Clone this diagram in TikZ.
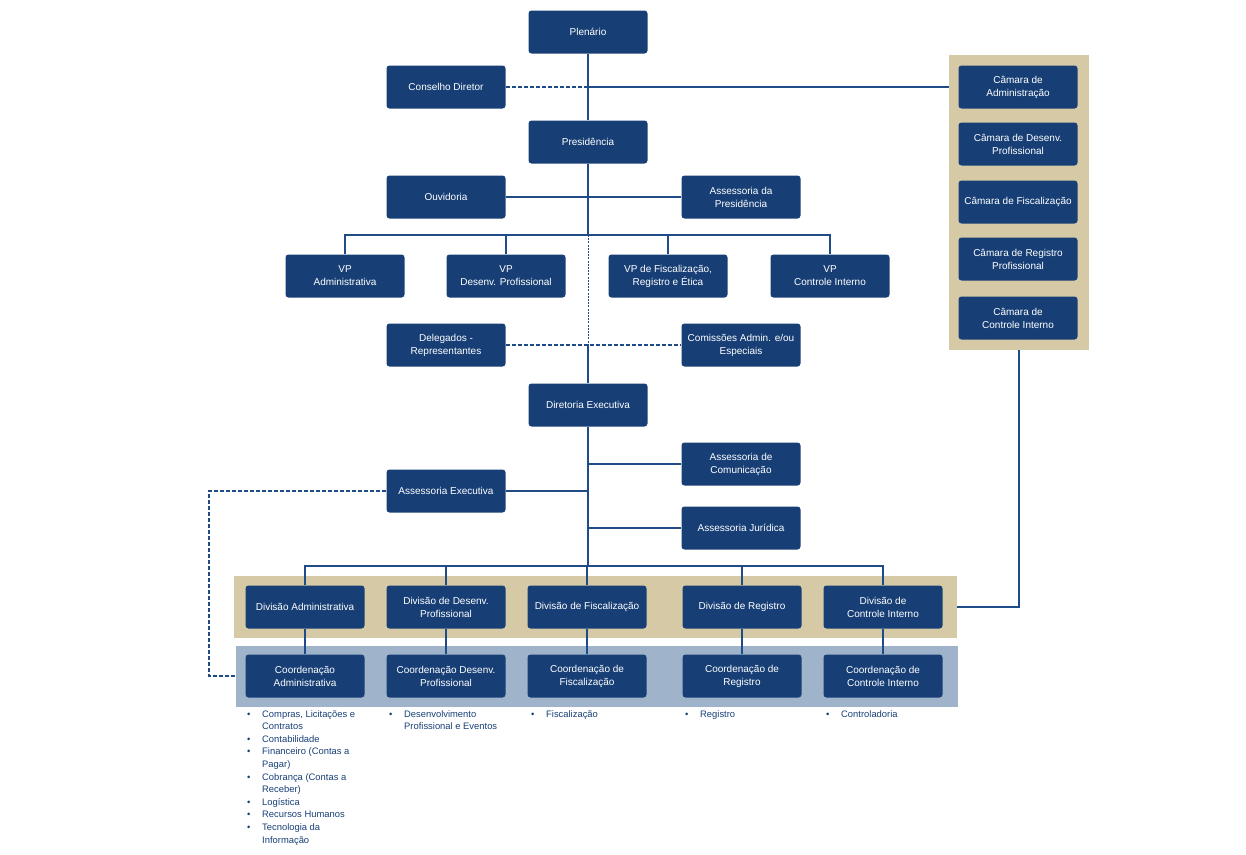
\documentclass[tikz,border=0pt]{standalone}
\usepackage{fontspec}
\setmainfont{Liberation Sans}
\usetikzlibrary{positioning}

\definecolor{orgblue}{HTML}{173F76}
\definecolor{linkblue}{HTML}{1F4C88}
\definecolor{bandtan}{HTML}{D6C9A6}
\definecolor{bandgrey}{HTML}{9FB4CA}

\tikzset{
  orgbox/.style={rounded corners=3pt, fill=orgblue, text=white, align=center,
    minimum width=119, minimum height=43, inner sep=0pt,
    font=\fontsize{10}{13}\selectfont},
  band/.style={inner sep=0pt, draw=none},
  link/.style={draw=linkblue, line width=1.1pt},
  dotlink/.style={link, dash pattern=on 4pt off 2pt},
  listtext/.style={anchor=north west, align=left, text=orgblue, inner sep=0pt,
    font=\fontsize{9.4}{12.6}\selectfont}
}

\newcommand\bul{\makebox[15pt][l]{\textbullet}}
\newcommand\hang{\hspace*{15pt}}

\begin{document}
\begin{tikzpicture}[x=1pt,y=-1pt]

\useasboundingbox (0,0) rectangle (1246,854);

% bands behind the boxes
\node[band, fill=bandtan, minimum width=140, minimum height=295] (camaraPanel) at (1019,202.5) {};
\node[band, fill=bandtan, minimum width=723, minimum height=62] (divBand) at (595.5,607) {};
\node[band, fill=bandgrey, minimum width=722, minimum height=61] (coordBand) at (597,676.5) {};

\node[orgbox] (plenario) at (588,32) {Plenário};
\node[orgbox] (conselhoDiretor) at (446,87) {Conselho Diretor};
\node[orgbox] (presidencia) at (588,142) {Presidência};
\node[orgbox] (ouvidoria) at (446,197) {Ouvidoria};
\node[orgbox] (assessoriaPresidencia) at (741,197) {Assessoria da\\Presidência};

\node[orgbox] (vpAdm) at (345,276) {VP\\Administrativa};
\node[orgbox] (vpDesenv) at (506,276) {VP\\Desenv. Profissional};
\node[orgbox] (vpFisc) at (668,276) {VP de Fiscalização,\\Registro e Ética};
\node[orgbox] (vpCtrl) at (830,276) {VP\\Controle Interno};

\node[orgbox] (delegados) at (446,345) {Delegados -\\Representantes};
\node[orgbox] (comissoes) at (741,345) {Comissões Admin. e/ou\\Especiais};
\node[orgbox] (diretoria) at (588,405) {Diretoria Executiva};

\node[orgbox] (assessoriaComunicacao) at (741,464) {Assessoria de\\Comunicação};
\node[orgbox] (assessoriaExecutiva) at (446,491) {Assessoria Executiva};
\node[orgbox] (assessoriaJuridica) at (741,528) {Assessoria Jurídica};

\node[orgbox] (camaraAdm) at (1018,87) {Câmara de\\Administração};
\node[orgbox] (camaraDesenv) at (1018,144) {Câmara de Desenv.\\Profissional};
\node[orgbox] (camaraFisc) at (1018,202) {Câmara de Fiscalização};
\node[orgbox] (camaraReg) at (1018,259) {Câmara de Registro\\Profissional};
\node[orgbox] (camaraCtrl) at (1018,318) {Câmara de\\Controle Interno};

\node[orgbox] (divAdm) at (305,607) {Divisão Administrativa};
\node[orgbox] (divDesenv) at (446,607) {Divisão de Desenv.\\Profissional};
\node[orgbox] (divFisc) at (587,607) {Divisão de Fiscalização};
\node[orgbox] (divReg) at (742,607) {Divisão de Registro};
\node[orgbox] (divCtrl) at (883,607) {Divisão de\\Controle Interno};

\node[orgbox] (coordAdm) at (305,676) {Coordenação\\Administrativa};
\node[orgbox] (coordDesenv) at (446,676) {Coordenação Desenv.\\Profissional};
\node[orgbox] (coordFisc) at (587,676) {Coordenação de\\Fiscalização};
\node[orgbox] (coordReg) at (742,676) {Coordenação de\\Registro};
\node[orgbox] (coordCtrl) at (883,676) {Coordenação de\\Controle Interno};

\coordinate (vpBar) at (588,235);
\coordinate (divBar) at (588,566);
\coordinate (execLeft) at (209,491);

% links
\draw[link] (plenario.south) -- (presidencia.north);
\draw[dotlink] (conselhoDiretor.east) -- (conselhoDiretor.east -| plenario);
\draw[link] (conselhoDiretor.east -| plenario) -- (camaraPanel.west |- conselhoDiretor);
\draw[link] (presidencia.south) -- (vpBar);
\draw[link] (ouvidoria.east) -- (assessoriaPresidencia.west);
\draw[link] (vpAdm.north) |- (vpBar) -| (vpCtrl.north);
\draw[link] (vpDesenv.north) -- (vpDesenv.north |- vpBar);
\draw[link] (vpFisc.north) -- (vpFisc.north |- vpBar);
\draw[link, line width=0.9pt, dash pattern=on 2pt off 1.2pt] (vpBar) -- (vpBar |- delegados);
\draw[link] (vpBar |- delegados) -- (diretoria.north);
\draw[dotlink] (delegados.east) -- (comissoes.west);
\draw[link] (diretoria.south) -- (divBar);
\draw[link] (assessoriaComunicacao.west) -- (assessoriaComunicacao.west -| diretoria);
\draw[link] (assessoriaExecutiva.east) -- (assessoriaExecutiva.east -| diretoria);
\draw[link] (assessoriaJuridica.west) -- (assessoriaJuridica.west -| diretoria);
\draw[dotlink] (assessoriaExecutiva.west) -- (execLeft) |- (coordBand.west |- coordAdm);

\draw[link] (divAdm.north) |- (divBar) -| (divCtrl.north);
\foreach \d in {divDesenv,divFisc,divReg}
  \draw[link] (\d.north) -- (\d.north |- divBar);
\draw[link] (camaraPanel.south) |- (divBand.east);

\draw[link] (divAdm.south) -- (coordAdm.north);
\draw[link] (divDesenv.south) -- (coordDesenv.north);
\draw[link] (divFisc.south) -- (coordFisc.north);
\draw[link] (divReg.south) -- (coordReg.north);
\draw[link] (divCtrl.south) -- (coordCtrl.north);

% task lists under the coordinations
\node[listtext] (listAdm) at (247,710) {\bul Compras, Licitações e\\\hang Contratos\\\bul Contabilidade\\\bul Financeiro (Contas a\\\hang Pagar)\\\bul Cobrança (Contas a\\\hang Receber)\\\bul Logística\\\bul Recursos Humanos\\\bul Tecnologia da\\\hang Informação};
\node[listtext] (listDesenv) at (389,710) {\bul Desenvolvimento\\\hang Profissional e Eventos};
\node[listtext] (listFisc) at (531,710) {\bul Fiscalização};
\node[listtext] (listReg) at (685,710) {\bul Registro};
\node[listtext] (listCtrl) at (826,710) {\bul Controladoria};

\end{tikzpicture}
\end{document}
